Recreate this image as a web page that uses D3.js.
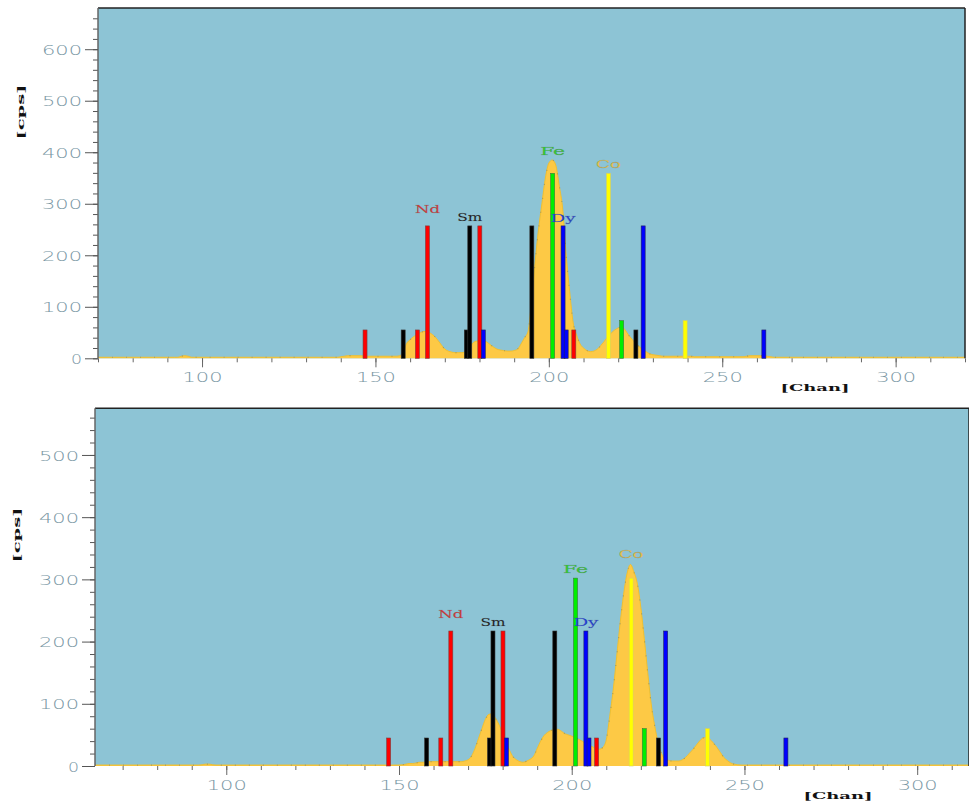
<!DOCTYPE html>
<html>
<head>
<meta charset="utf-8">
<script src="https://cdn.jsdelivr.net/npm/d3@7"></script>
<style>
  html, body { margin: 0; padding: 0; background: #fff; }
  svg { display: block; }
</style>
</head>
<body>
<div id="chart"></div>
<script>
// spectrum, upper acquisition (channel -> cps)
var topChan = [70, 92, 93, 94, 95, 96, 97, 98, 139, 140, 141, 142, 146, 147, 156,
  157, 158, 159, 160, 161, 162, 163, 164, 165, 166, 167, 168, 169, 170, 171, 172, 173, 174, 175,
  176, 177, 178, 179, 180, 181, 182, 183, 184, 185, 186, 187, 188, 189, 190, 191, 192, 193, 194,
  195, 196, 197, 198, 199, 200, 201, 202, 203, 204, 205, 206, 207, 208, 209, 210, 211, 212, 213,
  214, 215, 216, 217, 218, 219, 220, 221, 222, 223, 224, 225, 226, 227, 228, 229, 230, 231, 232,
  233, 241, 242, 256, 257, 258, 261, 262, 263, 264, 265, 320];
var topCps = [2, 2, 2, 4, 5, 4, 2, 2, 2, 3, 4, 5, 5, 4, 4,
  5, 12, 29, 36, 42, 46, 50, 52, 52, 48, 43, 35, 26, 18, 14, 12, 11, 11, 11,
  13, 18, 29, 33, 34, 34, 32, 27, 22, 18, 16, 15, 14, 14, 15, 18, 28, 40, 52,
  110, 184, 249, 300, 350, 379, 385, 375, 335, 290, 200, 130, 70, 45, 28, 20, 15, 13, 14,
  18, 25, 33, 42, 49, 55, 59, 61, 55, 45, 37, 29, 23, 17, 13, 9, 7, 6, 5,
  4, 4, 3, 3, 4, 5, 5, 5, 4, 3, 2, 2];

// spectrum, lower acquisition (channel -> cps)
var bottomChan = [62, 92, 93, 94, 95, 96, 97, 150, 151, 152, 153, 154, 155, 156, 157, 158, 168,
  169, 170, 171, 172, 173, 174, 175, 176, 177, 178, 179, 180, 181, 182, 183, 184, 185, 186,
  187, 188, 189, 190, 191, 192, 193, 194, 195, 196, 197, 198, 199, 200, 201, 202, 203, 204,
  205, 206, 207, 208, 209, 210, 211, 212, 213, 214, 215, 216, 217, 218, 219, 220, 221, 222,
  223, 224, 225, 226, 227, 228, 229, 230, 231, 232, 233, 234, 235, 236, 237, 238, 239, 240,
  241, 242, 243, 244, 245, 246, 247, 248, 249, 315];
var bottomCps = [1.5, 1.5, 2, 3, 3, 2, 1.5, 1.5, 2, 3, 4, 4, 5, 6, 6, 7, 7,
  8, 10, 16, 28, 44, 60, 75, 83, 84, 76, 66, 52, 38, 25, 15, 10, 7, 6,
  8, 11, 16, 28, 40, 49, 54, 57, 59, 59, 56, 52, 50, 48, 46, 43, 40, 36,
  33, 31, 28, 27, 30, 42, 80, 122, 175, 229, 275, 309, 324, 312, 293, 255, 205, 150,
  100, 65, 38, 20, 11, 9, 8, 8, 8, 10, 14, 20, 26, 33, 40, 45, 46, 43,
  37, 30, 22, 14, 9, 5, 3, 2, 1.5, 1.5];

// element marker lines
var lineChan = [147, 158, 162.1, 165, 176.2, 177.2, 180.1, 181.1, 195.1, 201.1, 204.1, 205,
  207.2, 217.2, 221, 225.1, 227.2, 239.3, 262];
var lineElem = ['Nd', 'Sm', 'Nd', 'Nd', 'Sm', 'Sm', 'Nd', 'Dy', 'Sm', 'Fe', 'Dy', 'Dy',
  'Nd', 'Co', 'Fe', 'Sm', 'Dy', 'Co', 'Dy'];
var topLineCps = [55, 55, 55, 257, 55, 257, 257, 55, 257, 359, 257, 55, 55, 359, 73, 55, 257, 73, 55];
var bottomLineCps = [45, 45, 45, 217, 45, 217, 217, 45, 217, 302, 217, 45, 45, 302, 60, 45, 217, 60, 45];

// element labels
var labelElem = ['Nd', 'Sm', 'Fe', 'Dy', 'Co'];
var labelChan = [165, 177.2, 201.1, 204.1, 217.2];
var topLabelCps = [282, 267, 395, 265, 370];
var bottomLabelCps = [238, 225, 311, 225, 334];

var yTicksTop = [0, 100, 200, 300, 400, 500, 600];
var yTicksBottom = [0, 100, 200, 300, 400, 500];
var xTicks = [100, 150, 200, 250, 300];

var lineColor = { Nd: '#ff0000', Sm: '#000000', Fe: '#00ee00', Dy: '#0000ff', Co: '#ffff00' };
var lineEdge = { Nd: '#7a4040', Sm: '#333333', Fe: '#3a7a3a', Dy: '#202060', Co: '#d8d060' };
var labelColor = { Nd: '#d83a3a', Sm: '#1a1a1a', Fe: '#30d030', Dy: '#2040e0', Co: '#ecc84c' };

var W = 969, H = 802;
var svg = d3.select('#chart').append('svg').attr('width', W).attr('height', H);

var panels = [
  { chan: topChan, cps: topCps, lineCps: topLineCps, labelCps: topLabelCps, yTicks: yTicksTop,
    xDomain: [70, 320], yDomain: [0, 680], left: 98, right: 965, top: 8, bottom: 358.3,
    cpsX: 20, cpsY: 112, chanX: 815, chanY: 391 },
  { chan: bottomChan, cps: bottomCps, lineCps: bottomLineCps, labelCps: bottomLabelCps, yTicks: yTicksBottom,
    xDomain: [62, 315], yDomain: [0, 575], left: 95, right: 969, top: 408.3, bottom: 766,
    cpsX: 16, cpsY: 535, chanX: 838, chanY: 799 }
];

var tickFont = '"DejaVu Sans", sans-serif';
var serifFont = '"DejaVu Serif", "Liberation Serif", serif';

function stretch(sel, perChar) {
  sel.each(function () {
    var n = this.textContent.length;
    d3.select(this).attr('textLength', n * perChar - 3.5).attr('lengthAdjust', 'spacingAndGlyphs');
  });
}

panels.forEach(function (p) {
  var x = d3.scaleLinear().domain(p.xDomain).range([p.left, p.right]);
  var y = d3.scaleLinear().domain(p.yDomain).range([p.bottom, p.top]);
  var g = svg.append('g');

  // plot background
  g.append('rect')
    .attr('x', p.left).attr('y', p.top)
    .attr('width', p.right - p.left).attr('height', p.bottom - p.top)
    .attr('fill', '#8dc4d5');

  // spectrum
  var data = p.chan.map(function (c, i) { return [c, p.cps[i]]; });
  var area = d3.area()
    .x(function (d) { return x(d[0]); })
    .y0(y(0))
    .y1(function (d) { return y(d[1]); })
    .curve(d3.curveMonotoneX);
  var line = area.lineY1();
  g.append('path').attr('d', area(data)).attr('fill', '#fdc945');
  g.append('path').attr('d', line(data)).attr('fill', 'none')
    .attr('stroke', '#f0c030').attr('stroke-width', 1);
  g.append('path').attr('d', line(data)).attr('fill', 'none')
    .attr('stroke', '#6f7a70').attr('stroke-width', 1.2)
    .attr('stroke-dasharray', '1,13').attr('opacity', 0.5);

  // element marker lines
  g.selectAll('.mark').data(lineChan).enter().append('rect')
    .attr('class', 'mark')
    .attr('x', function (d) { return x(d) - 2; })
    .attr('width', 4)
    .attr('y', function (d, i) { return y(p.lineCps[i]); })
    .attr('height', function (d, i) { return y(0) - y(p.lineCps[i]); })
    .attr('fill', function (d, i) { return lineColor[lineElem[i]]; })
    .attr('stroke', function (d, i) { return lineEdge[lineElem[i]]; })
    .attr('stroke-width', 0.6);

  // element labels
  g.selectAll('.elem').data(labelElem).enter().append('text')
    .attr('class', 'elem')
    .attr('x', function (d, i) { return x(labelChan[i]); })
    .attr('y', function (d, i) { return y(p.labelCps[i]); })
    .attr('text-anchor', 'middle')
    .attr('font-family', serifFont)
    .attr('font-size', 11)
    .attr('fill', function (d) { return labelColor[d]; })
    .attr('stroke', 'rgba(90,90,90,0.35)').attr('stroke-width', 0.4)
    .attr('textLength', 25).attr('lengthAdjust', 'spacingAndGlyphs')
    .text(function (d) { return d; });

  // frame
  g.append('line').attr('x1', p.left).attr('x2', p.right).attr('y1', p.top).attr('y2', p.top)
    .attr('stroke', '#222').attr('stroke-width', 1.5);
  g.append('line').attr('x1', p.right).attr('x2', p.right).attr('y1', p.top).attr('y2', p.bottom)
    .attr('stroke', '#222').attr('stroke-width', 1.5);

  // y axis: minor + major
  var yMinor = d3.range(p.yDomain[0], p.yDomain[1], 20);
  g.append('g').attr('transform', 'translate(' + p.left + ',0)')
    .call(d3.axisLeft(y).tickValues(yMinor).tickSize(5).tickFormat(''))
    .call(function (a) { a.select('.domain').remove(); a.selectAll('line').attr('stroke', '#555'); });
  var yAx = g.append('g').attr('transform', 'translate(' + p.left + ',0)')
    .call(d3.axisLeft(y).tickValues(p.yTicks).tickSize(13).tickPadding(3));
  yAx.select('.domain').attr('d', 'M0,' + p.top + 'V' + p.bottom).attr('stroke', '#666').attr('stroke-width', 1.5);
  yAx.selectAll('line').attr('stroke', '#555');
  yAx.selectAll('text').attr('font-family', tickFont).attr('font-size', 14).attr('font-weight', 200)
    .attr('fill', '#7896a3').attr('dy', '0.36em').call(stretch, 14.5);

  // x axis: minor + major
  var xMinor = d3.range(Math.ceil(p.xDomain[0] / 10) * 10, p.xDomain[1] + 0.1, 10);
  g.append('g').attr('transform', 'translate(0,' + p.bottom + ')')
    .call(d3.axisBottom(x).tickValues(xMinor).tickSize(4).tickFormat(''))
    .call(function (a) { a.select('.domain').remove(); a.selectAll('line').attr('stroke', '#666'); });
  var xAx = g.append('g').attr('transform', 'translate(0,' + p.bottom + ')')
    .call(d3.axisBottom(x).tickValues(xTicks).tickSize(9).tickPadding(5));
  xAx.select('.domain').remove();
  xAx.selectAll('line').attr('stroke', '#666');
  xAx.selectAll('text').attr('font-family', tickFont).attr('font-size', 14).attr('font-weight', 200)
    .attr('fill', '#7896a3').call(stretch, 14.5);

  // axis titles
  svg.append('text')
    .attr('transform', 'translate(' + p.cpsX + ',' + p.cpsY + ') rotate(-90)')
    .attr('text-anchor', 'middle').attr('dy', '0.35em')
    .attr('font-family', serifFont).attr('font-weight', 'bold').attr('font-size', 10)
    .attr('fill', '#111')
    .attr('textLength', 55).attr('lengthAdjust', 'spacingAndGlyphs')
    .text('[cps]');
  svg.append('text')
    .attr('x', p.chanX).attr('y', p.chanY)
    .attr('text-anchor', 'middle')
    .attr('font-family', serifFont).attr('font-weight', 'bold').attr('font-size', 10)
    .attr('fill', '#111')
    .attr('textLength', 69).attr('lengthAdjust', 'spacingAndGlyphs')
    .text('[Chan]');
});
</script>
</body>
</html>
